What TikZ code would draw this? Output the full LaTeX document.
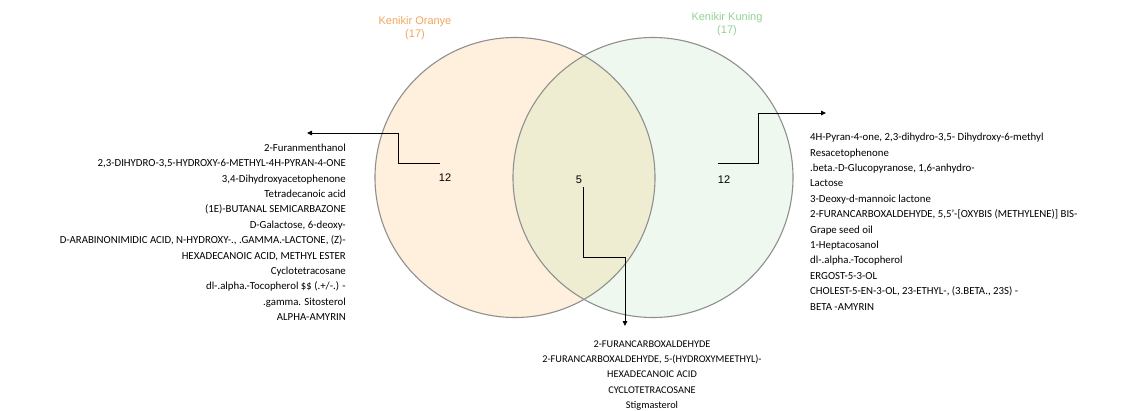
\documentclass[tikz,border=0pt]{standalone}
\usepackage{fontspec}
\setmainfont{Carlito}
\newfontfamily\arialf{Liberation Sans}
\usetikzlibrary{arrows.meta}
\definecolor{orfill}{HTML}{FFF0DE}
\definecolor{grfill}{HTML}{EEF8EE}
\definecolor{mixfill}{HTML}{EEEDD2}
\definecolor{ringcol}{HTML}{8F8F8F}
\definecolor{ortext}{HTML}{F2A65E}
\definecolor{grtext}{HTML}{92D394}
\begin{document}
\begin{tikzpicture}[x=1pt,y=-1pt,
  ring/.style={draw=ringcol,line width=1.1pt},
  setlabel/.style={font=\arialf\fontsize{11}{13}\selectfont,align=center,inner sep=0pt},
  count/.style={font=\arialf\fontsize{11}{13}\selectfont,inner sep=0pt},
  list/.style={font=\fontsize{10.8}{15.4}\selectfont,inner sep=0pt},
  mlist/.style={font=\fontsize{10.3}{15.3}\selectfont,inner sep=0pt},
  conn/.style={draw=black,line width=0.8pt,-{Triangle[length=5pt,width=4.5pt]}}
]
\useasboundingbox (0,0) rectangle (1124,410);
\fill[white] (0,0) rectangle (1124,410);
\fill[orfill] (515,177.5) circle[radius=140pt];
\fill[grfill] (653,177.5) circle[radius=140pt];
\begin{scope}
  \clip (515,177.5) circle[radius=140pt];
  \fill[mixfill] (653,177.5) circle[radius=140pt];
\end{scope}
\draw[ring] (515,177.5) circle[radius=140pt];
\draw[ring] (653,177.5) circle[radius=140pt];

\node[setlabel,text=ortext] (tL) at (415,28) {Kenikir Oranye\\(17)};
\node[setlabel,text=grtext] (tR) at (727,24) {Kenikir Kuning\\(17)};

\node[count] (nL) at (445,178) {12};
\node[count] (nM) at (579,180) {5};
\node[count] (nR) at (724,180) {12};

\node[list,anchor=north east,align=right] (listL) at (346,143.5) {2-Furanmenthanol\\
2,3-DIHYDRO-3,5-HYDROXY-6-METHYL-4H-PYRAN-4-ONE\\
3,4-Dihydroxyacetophenone\\
Tetradecanoic acid\\
(1E)-BUTANAL SEMICARBAZONE\\
D-Galactose, 6-deoxy-\\
D-ARABINONIMIDIC ACID, N-HYDROXY-., .GAMMA.-LACTONE, (Z)-\\
HEXADECANOIC ACID, METHYL ESTER\\
Cyclotetracosane\\
dl-.alpha.-Tocopherol \$\$ (.+/-.) -\\
.gamma. Sitosterol\\
ALPHA-AMYRIN};

\node[list,anchor=north west,align=left] (listR) at (810,133) {4H-Pyran-4-one, 2,3-dihydro-3,5- Dihydroxy-6-methyl\\
Resacetophenone\\
.beta.-D-Glucopyranose, 1,6-anhydro-\\
Lactose\\
3-Deoxy-d-mannoic lactone\\
2-FURANCARBOXALDEHYDE, 5,5'-[OXYBIS (METHYLENE)] BIS-\\
Grape seed oil\\
1-Heptacosanol\\
dl-.alpha.-Tocopherol\\
ERGOST-5-3-OL\\
CHOLEST-5-EN-3-OL, 23-ETHYL-, (3.BETA., 23S) -\\
BETA -AMYRIN};

\node[mlist,anchor=north,align=center] (listM) at (652,340.5) {2-FURANCARBOXALDEHYDE\\
2-FURANCARBOXALDEHYDE, 5-(HYDROXYMEETHYL)-\\
HEXADECANOIC ACID\\
CYCLOTETRACOSANE\\
Stigmasterol};

\coordinate (lstart) at (440,163);
\coordinate (ltip) at (307,133);
\coordinate (rstart) at (718,163);
\coordinate (rtip) at (826,113);
\coordinate (mstart) at (583,187);
\coordinate (mtip) at (625,326);

\draw[conn] (lstart) -- ++(-42,0) |- (ltip);
\draw[conn] (rstart) -- ++(40,0) |- (rtip);
\draw[conn] (mstart) -- ++(0,70) -| (mtip);
\end{tikzpicture}
\end{document}
